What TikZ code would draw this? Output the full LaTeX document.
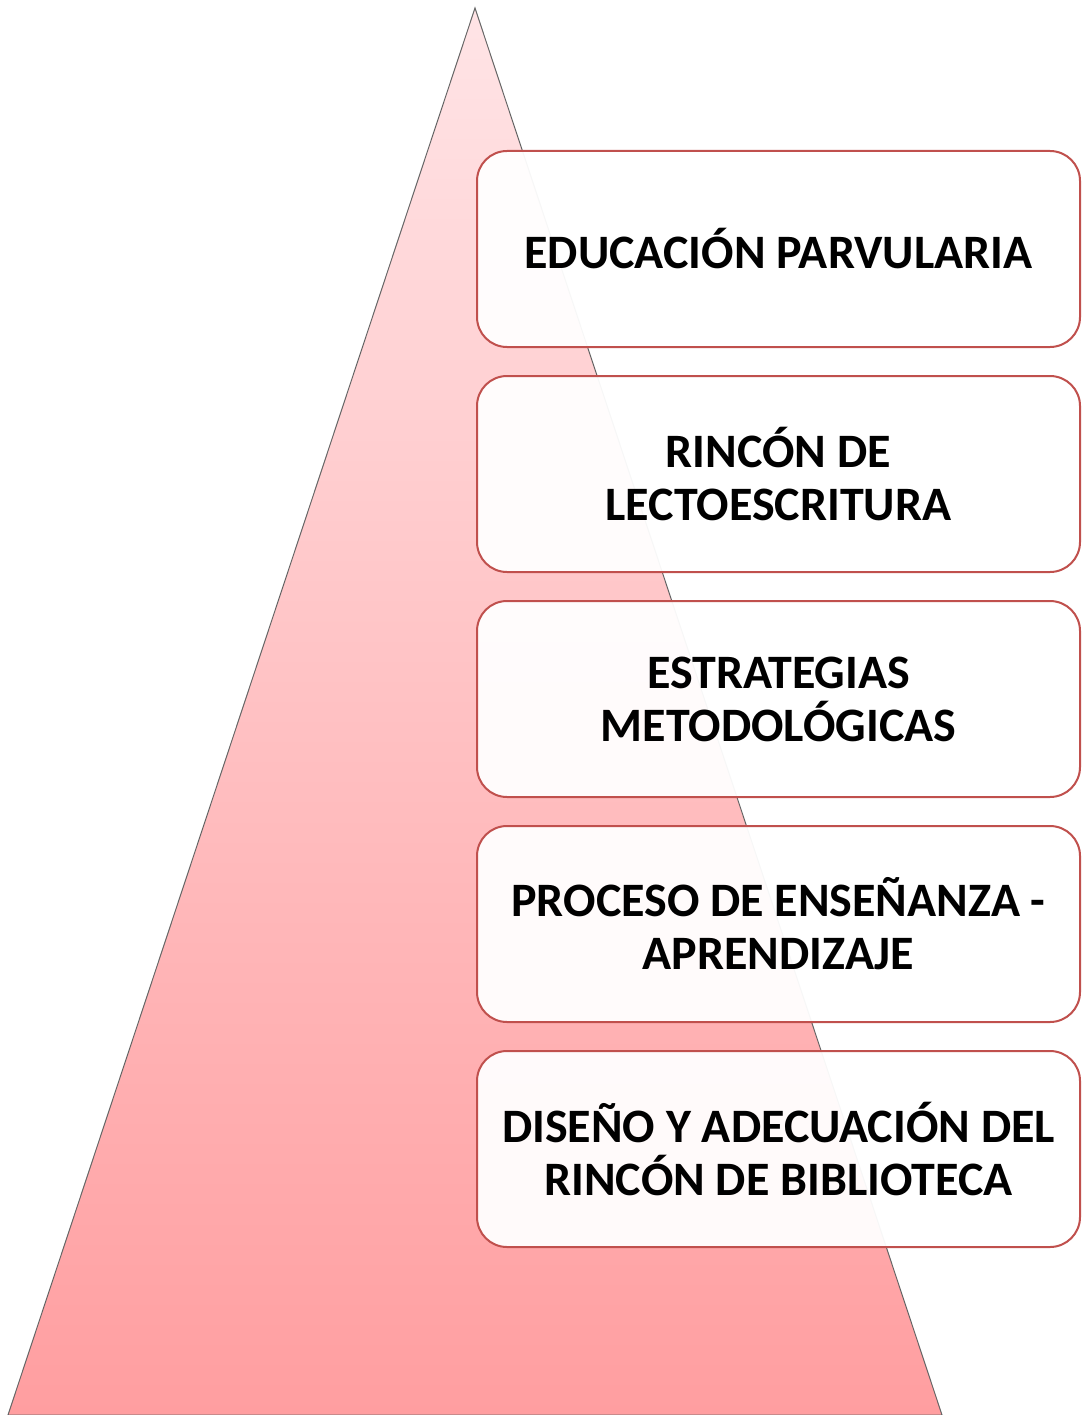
\documentclass[tikz,border=0pt]{standalone}
\usepackage{fontspec}
\setmainfont{Carlito}
\usetikzlibrary{positioning}

\definecolor{boxred}{RGB}{192,80,77}
\definecolor{pinktop}{RGB}{255,228,230}
\definecolor{pinkbot}{RGB}{255,158,160}

\begin{document}
\begin{tikzpicture}[x=1pt, y=-1pt,
  level/.style = {draw = boxred, line width = 2pt, rounded corners = 30pt,
    fill = white, fill opacity = 0.95, text opacity = 1,
    minimum width = 603pt, minimum height = 196pt, inner sep = 0pt,
    align = center, font = \fontsize{48}{53}\selectfont\bfseries}]
\useasboundingbox (0,0) rectangle (1081,1415);
\begin{scope}
\clip (0,0) rectangle (1081,1415);
\shade[top color = pinktop, bottom color = pinkbot, draw = black!60, line width = 1pt]
  (475,8) -- (942,1415) -- (8,1415) -- cycle;
\end{scope}
\node[level, anchor = north west] (parv) at (476,150) {EDUCACIÓN PARVULARIA};
\node[level, below = 27pt of parv] (rincon) {RINCÓN DE\\LECTOESCRITURA};
\node[level, below = 27pt of rincon] (estr) {ESTRATEGIAS\\METODOLÓGICAS};
\node[level, below = 27pt of estr] (proc) {PROCESO DE ENSEÑANZA -\\APRENDIZAJE};
\node[level, below = 27pt of proc] (bibl) {DISEÑO Y ADECUACIÓN DEL\\RINCÓN DE BIBLIOTECA};
\end{tikzpicture}
\end{document}
